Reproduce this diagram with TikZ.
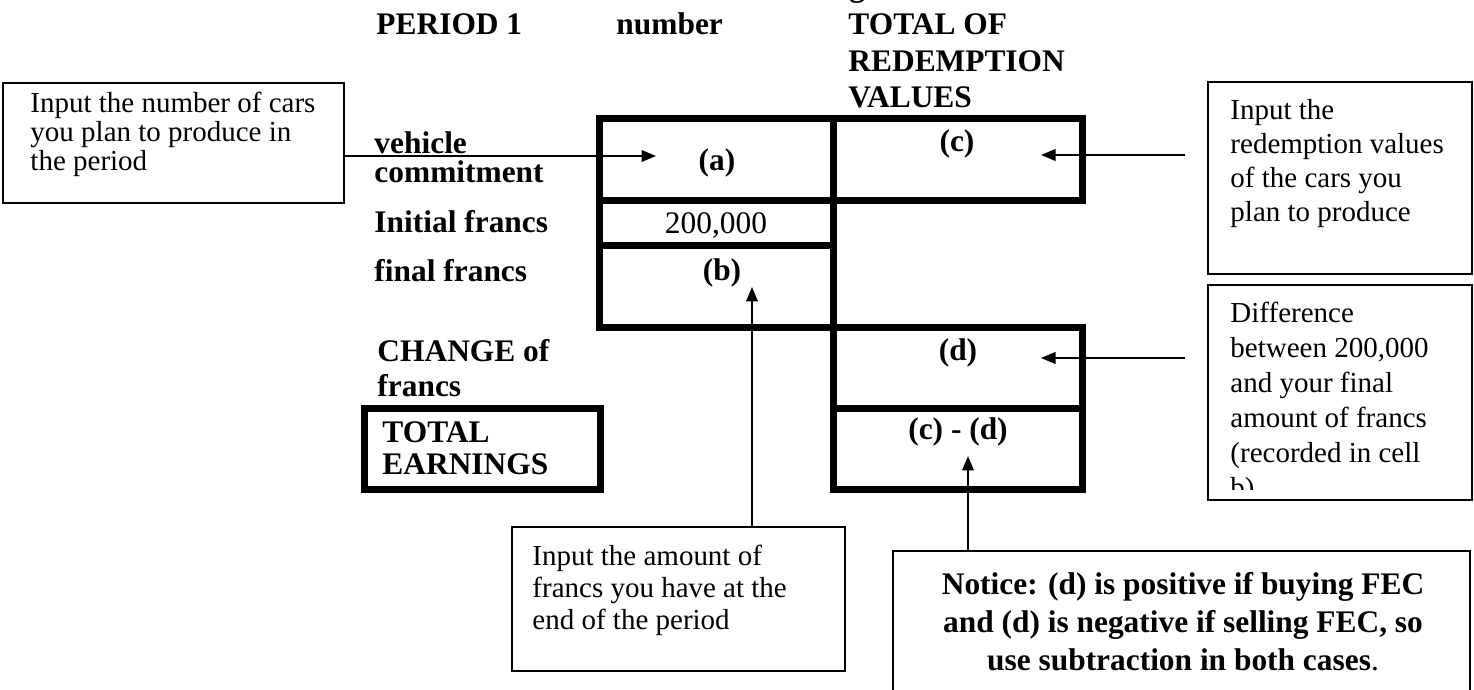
\documentclass[tikz,border=0pt]{standalone}
\usepackage{fontspec}
\setmainfont{Liberation Serif}
\usetikzlibrary{arrows.meta,fit}
\begin{document}
\begin{tikzpicture}[x=0.414pt,y=-0.414pt,
  tbl/.style={line width=2.9pt,line cap=rect},
  note/.style={draw,line width=0.8pt,inner sep=0pt},
  lab/.style={anchor=base west,inner sep=0pt,font=\fontsize{13}{15}\selectfont\bfseries},
  cell/.style={anchor=base,inner sep=0pt,font=\fontsize{13}{15}\selectfont\bfseries},
  ntxt/.style={anchor=base west,inner sep=0pt,font=\fontsize{12}{13.8}\selectfont},
  btxt/.style={anchor=base,inner sep=0pt,font=\fontsize{13}{15}\selectfont\bfseries},
  arr/.style={line width=0.8pt,-{Triangle[length=6pt,width=4.8pt]}}]
\useasboundingbox (0,0) rectangle (1474,690);

% header (the first line is cut off by the page edge)
\begin{scope}
\clip (0,0) rectangle (1474,690);
\node[lab] (hcut) at (849,-3) {g};
\end{scope}
\node[lab] (hper) at (376,35) {PERIOD 1};
\node[lab] (hnum) at (616,35) {number};
\node[lab] (htot1) at (848,35) {TOTAL OF};
\node[lab] (htot2) at (848,72) {REDEMPTION};
\node[lab] (htot3) at (848,108) {VALUES};

% table
\draw[tbl] (599,119) -- (1082,119);
\draw[tbl] (599,119) -- (599,328);
\draw[tbl] (833,119) -- (833,490);
\draw[tbl] (1082,119) -- (1082,201);
\draw[tbl] (599,201) -- (1082,201);
\draw[tbl] (599,246) -- (833,246);
\draw[tbl] (599,328) -- (1082,328);
\draw[tbl] (1082,328) -- (1082,490);
\draw[tbl] (833,409) -- (1082,409);
\draw[tbl] (833,490) -- (1082,490);
\draw[tbl] (364,409) rectangle (600,490);

% row labels
\node[lab] (lveh) at (374,154) {vehicle};
\node[lab] (lcom) at (374,183) {commitment};
\node[lab] (lini) at (374,233) {Initial francs};
\node[lab] (lfin) at (374,282) {final francs};
\node[lab] (lchg) at (377,362) {CHANGE of};
\node[lab] (lfr) at (377,397) {francs};
\node[lab] (ltot) at (382,443) {TOTAL};
\node[lab] (lear) at (382,475) {EARNINGS};

% cell contents
\node[cell] (ca) at (717,171) {(a)};
\node[cell] (cc) at (957,152) {(c)};
\node[anchor=base,inner sep=0pt,font=\fontsize{13}{15}\selectfont] (c200) at (716,234) {200,000};
\node[cell] (cb) at (722,281) {(b)};
\node[cell] (cd) at (958,361) {(d)};
\node[cell] (ccd) at (958,440) {(c) - (d)};

% note: left
\coordinate (nl1) at (3,83);
\coordinate (nl2) at (344,203);
\node[note,fit=(nl1)(nl2)] (noteL) {};
\node[ntxt] (tl1) at (30,113) {Input the number of cars};
\node[ntxt] (tl2) at (30,142) {you plan to produce in};
\node[ntxt] (tl3) at (30,171) {the period};

% note: right top
\coordinate (nr1) at (1208,82);
\coordinate (nr2) at (1472,274);
\node[note,fit=(nr1)(nr2)] (noteR) {};
\node[ntxt] (tr1) at (1230,120) {Input the};
\node[ntxt] (tr2) at (1230,154) {redemption values};
\node[ntxt] (tr3) at (1230,188) {of the cars you};
\node[ntxt] (tr4) at (1230,222) {plan to produce};

% note: right bottom (text cut by the box margin)
\coordinate (nd1) at (1208,285);
\coordinate (nd2) at (1472,500);
\begin{scope}
\clip (1208,285) rectangle (1472,490);
\node[ntxt] (td1) at (1230,323) {Difference};
\node[ntxt] (td2) at (1230,358) {between 200,000};
\node[ntxt] (td3) at (1230,393) {and your final};
\node[ntxt] (td4) at (1230,428) {amount of francs};
\node[ntxt] (td5) at (1230,463) {(recorded in cell};
\node[ntxt] (td6) at (1230,498) {b).};
\end{scope}
\node[note,fit=(nd1)(nd2)] (noteD) {};

% note: bottom (b)
\coordinate (nb1) at (512,527);
\coordinate (nb2) at (845,671);
\node[note,fit=(nb1)(nb2)] (noteB) {};
\node[ntxt] (tb1) at (532,566) {Input the amount of};
\node[ntxt] (tb2) at (532,598) {francs you have at the};
\node[ntxt] (tb3) at (532,630) {end of the period};

% note: notice
\coordinate (nn1) at (893,551);
\coordinate (nn2) at (1470,740);
\node[note,fit=(nn1)(nn2)] (noteN) {};
\node[btxt] (tn1) at (1183,595) {Notice: (d) is positive if buying FEC};
\node[btxt] (tn2) at (1183,633) {and (d) is negative if selling FEC, so};
\node[btxt] (tn3) at (1183,671) {use subtraction in both cases\mdseries.};

% arrows
\coordinate (tipA) at (656,156);
\coordinate (tipC) at (1041,155);
\coordinate (srcC) at (1185,155);
\coordinate (tipD) at (1041,358);
\coordinate (srcD) at (1185,358);
\coordinate (tipB) at (752,287);
\coordinate (tipCD) at (968,456);
\draw[arr] (noteL.east |- tipA) -- (tipA);
\draw[arr] (srcC) -- (tipC);
\draw[arr] (srcD) -- (tipD);
\draw[arr] (noteB.north -| tipB) -- (tipB);
\draw[arr] (noteN.north -| tipCD) -- (tipCD);
\end{tikzpicture}
\end{document}
